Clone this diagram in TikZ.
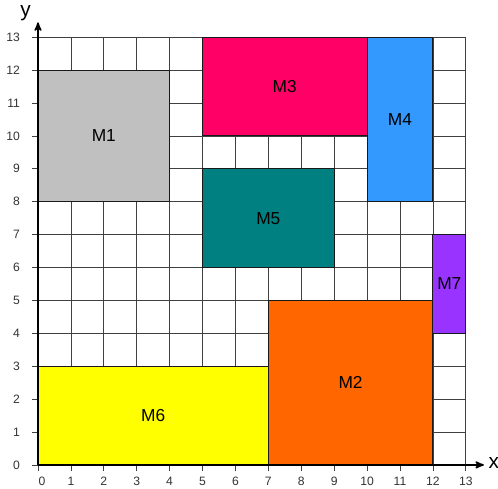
\documentclass[tikz,border=0pt]{standalone}
\usepackage{fontspec}
\setmainfont{Liberation Sans}
\usepackage{tikz}
\usetikzlibrary{arrows,shapes,backgrounds}

\definecolor{mgray}{HTML}{C0C0C0}
\definecolor{mpink}{HTML}{FF0066}
\definecolor{mblue}{HTML}{3399FF}
\definecolor{mteal}{HTML}{008080}
\definecolor{mpurple}{HTML}{9933FF}
\definecolor{morange}{HTML}{FF6600}
\definecolor{myellow}{HTML}{FFFF00}

\begin{document}
\begin{tikzpicture}[->,>=stealth',thick,
                    grid line/.style={black!75,line width=0.6pt},
                    main node/.style={rectangle,draw=black!90,line width=0.9pt,inner sep=0pt,outer sep=0pt,
                                      font=\fontsize{15}{17}\selectfont},
                    tick label/.style={font=\fontsize{10.5}{12}\selectfont,text=black!80}]

  \useasboundingbox (-1.155,-0.73) rectangle (13.98,14.13);

  \draw[-,grid line] (0,0) grid (13,13);

  % ticks and numbers
  \foreach \i in {0,...,13} {
    \draw[-,grid line] (\i,0) -- (\i,-0.18);
    \draw[-,grid line] (0,\i) -- (-0.18,\i);
    \node[tick label,anchor=east] (ylab\i) at (-0.42,\i) {\i};
  }
  \node[tick label] (xlab0) at (0.12,-0.5) {0};
  \foreach \i in {1,...,13}
    \node[tick label] (xlab\i) at (\i,-0.5) {\i};

  % machines
  \node[main node,fill=mgray,minimum width=4cm,minimum height=4cm] (m1) at (2,10) {M1};
  \node[main node,fill=mpink,minimum width=5cm,minimum height=3cm] (m3) at (7.5,11.5) {M3};
  \node[main node,fill=mblue,minimum width=2cm,minimum height=5cm] (m4) at (11,10.5) {M4};
  \node[main node,fill=mteal,minimum width=4cm,minimum height=3cm] (m5) at (7,7.5) {M5};
  \node[main node,fill=mpurple,minimum width=1cm,minimum height=3cm] (m7) at (12.5,5.5) {M7};
  \node[main node,fill=morange,minimum width=5cm,minimum height=5cm] (m2) at (9.5,2.5) {M2};
  \node[main node,fill=myellow,minimum width=7cm,minimum height=3cm] (m6) at (3.5,1.5) {M6};

  % axes
  \coordinate (o) at (0,0);
  \coordinate (xend) at (13.55,0);
  \coordinate (yend) at (0,13.45);
  \draw[line width=1.5pt] (o) -- (xend);
  \draw[line width=1.5pt] (o) -- (yend);
  \node[font=\fontsize{18}{20}\selectfont] (xname) at (13.85,0.05) {x};
  \node[font=\fontsize{18}{20}\selectfont] (yname) at (-0.38,13.72) {y};
\end{tikzpicture}
\end{document}
